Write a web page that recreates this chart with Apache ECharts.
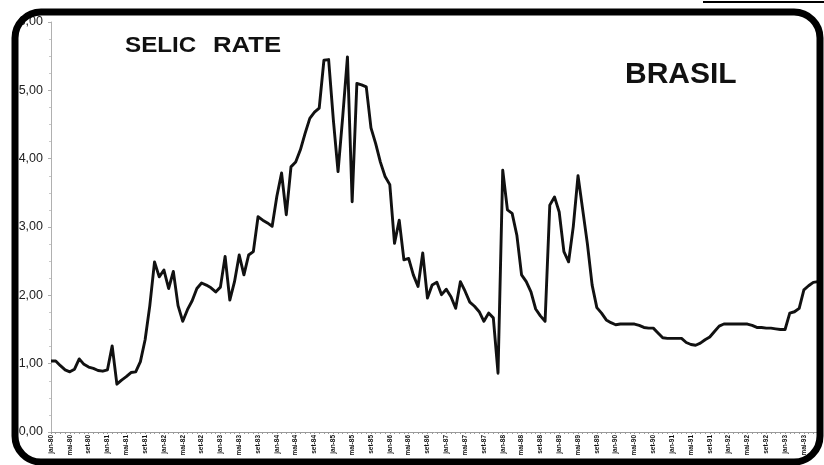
<!DOCTYPE html>
<html>
<head>
<meta charset="utf-8">
<style>
  html, body { margin: 0; padding: 0; background: #ffffff; }
  #chart { width: 824px; height: 465px; }
</style>
<script src="https://cdn.jsdelivr.net/npm/echarts@6/dist/echarts.min.js"></script>
</head>
<body>
<div id="chart"></div>
<script>
// Monthly SELIC rate (% per month)
const monthNames = ['jan', 'fev', 'mar', 'abr', 'mai', 'jun', 'jul', 'ago', 'set', 'out', 'nov', 'dez'];
const startYear = 80;

const selicRate = [
  1.04, 1.04, 0.97, 0.91, 0.88, 0.92, 1.07, 0.99, 0.95, 0.93,
  0.90, 0.89, 0.91, 1.26, 0.70, 0.76, 0.81, 0.87, 0.88, 1.03,
  1.35, 1.85, 2.49, 2.27, 2.37, 2.10, 2.35, 1.85, 1.62, 1.79,
  1.92, 2.10, 2.18, 2.15, 2.11, 2.05, 2.12, 2.57, 1.93, 2.20,
  2.59, 2.30, 2.59, 2.64, 3.15, 3.10, 3.06, 3.01, 3.45, 3.79,
  3.18, 3.88, 3.95, 4.13, 4.37, 4.59, 4.68, 4.74, 5.44, 5.45,
  4.57, 3.81, 4.62, 5.49, 3.37, 5.10, 5.08, 5.05, 4.45, 4.22,
  3.95, 3.74, 3.62, 2.76, 3.10, 2.52, 2.54, 2.30, 2.13, 2.62,
  1.96, 2.15, 2.19, 2.01, 2.09, 1.98, 1.81, 2.20, 2.06, 1.90,
  1.84, 1.76, 1.62, 1.74, 1.67, 0.86, 3.83, 3.25, 3.20, 2.88,
  2.30, 2.20, 2.05, 1.80, 1.70, 1.62, 3.32, 3.44, 3.22, 2.64,
  2.49, 3.01, 3.75, 3.25, 2.75, 2.15, 1.82, 1.74, 1.64, 1.60,
  1.57, 1.58, 1.58, 1.58, 1.58, 1.56, 1.53, 1.52, 1.52, 1.45,
  1.38, 1.37, 1.37, 1.37, 1.37, 1.31, 1.28, 1.27, 1.30, 1.35,
  1.39, 1.47, 1.55, 1.58, 1.58, 1.58, 1.58, 1.58, 1.58, 1.56,
  1.53, 1.53, 1.52, 1.52, 1.51, 1.50, 1.50, 1.74, 1.76, 1.81,
  2.08, 2.14, 2.19, 2.20
];

const yTicks = ['0,00', '1,00', '2,00', '3,00', '4,00', '5,00', '6,00'];

const months = selicRate.map((_, i) => {
  const m = i % 12;
  const y = startYear + Math.floor(i / 12);
  return monthNames[m] + '-' + String(y).padStart(2, '0');
});

const chart = echarts.init(document.getElementById('chart'), null, { renderer: 'canvas' });

chart.setOption({
  animation: false,
  backgroundColor: '#ffffff',
  grid: { left: 51, right: 6, top: 22, bottom: 33, containLabel: false },
  xAxis: {
    type: 'category',
    data: months,
    boundaryGap: false,
    axisLine: { show: true, lineStyle: { color: '#9a9a9a', width: 1 } },
    axisTick: { show: true, interval: 0, length: 2, lineStyle: { color: '#9a9a9a' } },
    axisLabel: {
      interval: 3,
      rotate: 90,
      fontSize: 6.5,
      fontWeight: 'bold',
      color: '#111',
      fontFamily: 'Liberation Sans, Arial, sans-serif',
      margin: 3
    },
    splitLine: { show: false }
  },
  yAxis: {
    type: 'value',
    min: 0,
    max: 6,
    interval: 1,
    axisLine: { show: true, lineStyle: { color: '#b0b0b0', width: 1 } },
    axisTick: { show: true, length: 3, lineStyle: { color: '#b0b0b0' } },
    minorTick: { show: true, splitNumber: 4, length: 2, lineStyle: { color: '#c8c8c8' } },
    axisLabel: {
      formatter: v => yTicks[v],
      fontSize: 12.5,
      color: '#222',
      fontFamily: 'Liberation Sans, Arial, sans-serif',
      margin: 8
    },
    splitLine: { show: false }
  },
  series: [{
    type: 'line',
    data: selicRate,
    symbol: 'none',
    smooth: false,
    lineStyle: { color: '#111', width: 2.9, join: 'round' },
    z: 3
  }],
  graphic: [
    {
      type: 'rect',
      z: 100,
      shape: { x: 15, y: 12, width: 805, height: 450, r: 26 },
      style: { fill: 'none', stroke: '#000', lineWidth: 7 }
    },
    {
      type: 'line',
      z: 100,
      shape: { x1: 703, y1: 2, x2: 824, y2: 2 },
      style: { stroke: '#000', lineWidth: 2 }
    },
    {
      type: 'text',
      z: 101,
      x: 125,
      y: 35,
      scaleX: 1.1,
      style: {
        text: 'SELIC',
        fontSize: 22,
        fontWeight: 'bold',
        fontFamily: 'Liberation Sans, Arial, sans-serif',
        fill: '#111'
      }
    },
    {
      type: 'text',
      z: 101,
      x: 213,
      y: 35,
      scaleX: 1.17,
      style: {
        text: 'RATE',
        fontSize: 22,
        fontWeight: 'bold',
        fontFamily: 'Liberation Sans, Arial, sans-serif',
        fill: '#111'
      }
    },
    {
      type: 'text',
      z: 101,
      x: 625,
      y: 60,
      style: {
        text: 'BRASIL',
        fontSize: 30,
        fontWeight: 'bold',
        fontFamily: 'Liberation Sans, Arial, sans-serif',
        fill: '#111'
      }
    }
  ]
});
</script>
</body>
</html>
